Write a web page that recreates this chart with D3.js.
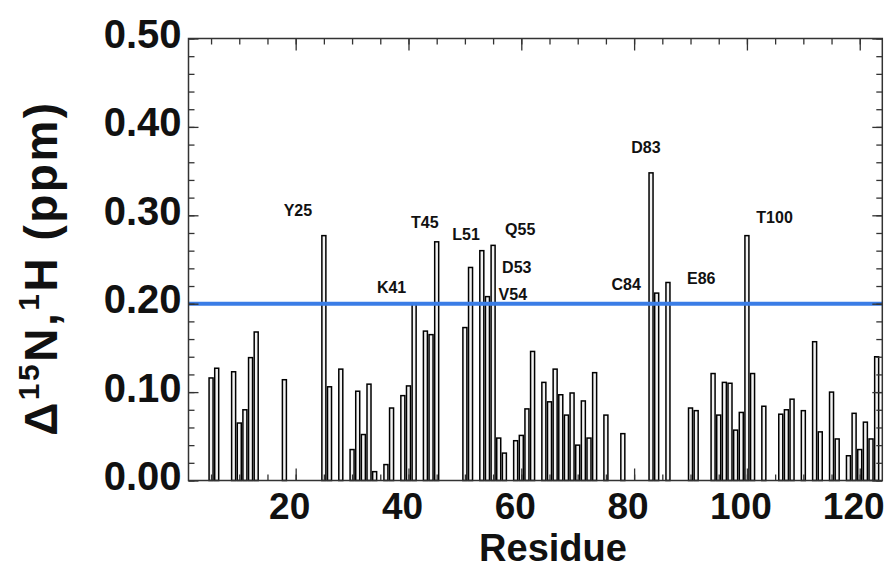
<!DOCTYPE html>
<html>
<head>
<meta charset="utf-8">
<script src="https://cdn.jsdelivr.net/npm/d3@7"></script>
<style>
  body { margin: 0; background: #fff; }
  text { font-family: "Liberation Sans", Arial, sans-serif; font-weight: bold; fill: #111; }
</style>
</head>
<body>
<div id="chart"></div>
<script>
// residue numbers and chemical shift perturbations (ppm)
var residues = [5, 6, 9, 10, 11, 12, 13, 18, 25, 26, 28, 30, 31, 32, 33, 34, 36, 37, 39, 40,
                41, 43, 44, 45, 50, 51, 53, 54, 55, 56, 57, 59, 60, 61, 62, 64, 65, 66, 67, 68,
                69, 70, 71, 72, 73, 75, 78, 83, 84, 86, 90, 91, 94, 95, 96, 97, 98, 99, 100, 101,
                103, 106, 107, 108, 110, 112, 113, 115, 116, 118, 119, 120, 121, 122, 123];
var shifts   = [0.116, 0.127, 0.123, 0.065, 0.080, 0.139, 0.168, 0.114, 0.277, 0.106, 0.126, 0.035, 0.101, 0.052, 0.109, 0.010, 0.018, 0.082, 0.096, 0.107,
                0.200, 0.169, 0.165, 0.270, 0.173, 0.241, 0.260, 0.208, 0.266, 0.048, 0.031, 0.045, 0.051, 0.081, 0.146, 0.111, 0.089, 0.126, 0.097, 0.074,
                0.099, 0.040, 0.090, 0.048, 0.122, 0.074, 0.053, 0.348, 0.212, 0.224, 0.082, 0.079, 0.121, 0.074, 0.111, 0.110, 0.057, 0.077, 0.277, 0.121,
                0.084, 0.075, 0.080, 0.092, 0.079, 0.157, 0.055, 0.100, 0.047, 0.028, 0.076, 0.035, 0.066, 0.047, 0.140];

// labelled residues and where their label sits (data coordinates)
var labelNames = ['Y25', 'K41', 'T45', 'L51', 'Q55', 'D53', 'V54', 'D83', 'C84', 'E86', 'T100'];
var labelRes   = [20.4, 37.0, 42.9, 50.2, 59.8, 59.2, 58.5, 82.1, 78.6, 91.9, 104.9];
var labelVal   = [0.306, 0.219, 0.292, 0.279, 0.284, 0.241, 0.211, 0.377, 0.222, 0.229, 0.298];

var threshold = 0.20;
var yTicks = [0.0, 0.1, 0.2, 0.3, 0.4, 0.5];
var xTicks = [20, 40, 60, 80, 100, 120];

var W = 893, H = 574;
var margin = {top: 38.5, right: 10.7, bottom: 93.5, left: 188.5},
    width  = W - margin.left - margin.right,
    height = H - margin.top - margin.bottom;

var svg = d3.select('#chart').append('svg')
            .attr('width', W).attr('height', H);
var g = svg.append('g')
           .attr('transform', 'translate(' + margin.left + ',' + margin.top + ')');

var x = d3.scaleLinear().domain([1, 124]).range([0, width]);
var y = d3.scaleLinear().domain([0, 0.5]).range([height, 0]);

// bars
var barW = 4;
g.selectAll('.bar')
 .data(residues.map(function(r, i){ return [r, shifts[i]]; }))
 .enter().append('rect')
   .attr('class', 'bar')
   .attr('x', function(d){ return x(d[0]) - barW / 2; })
   .attr('y', function(d){ return y(d[1]); })
   .attr('width', barW)
   .attr('height', function(d){ return height - y(d[1]); })
   .style('fill', '#f2f2f2')
   .style('stroke', '#000')
   .style('stroke-width', 1.5);

// threshold line
g.append('line')
 .attr('x1', 0).attr('x2', width)
 .attr('y1', y(threshold)).attr('y2', y(threshold))
 .style('stroke', '#3a7de6')
 .style('stroke-width', 4);

// axes: ticks inside on all four sides
function styleAxis(sel){
  sel.select('.domain').remove();
  sel.selectAll('line').style('stroke', '#333').style('stroke-width', 1.3);
}
var yMinor = d3.range(0, 0.501, 0.02);
var xMinor = d3.range(5, 124, 5);

g.append('g').call(d3.axisLeft(y).tickValues(yMinor).tickSize(-6).tickFormat('')).call(styleAxis);
g.append('g').call(d3.axisLeft(y).tickValues(yTicks).tickSize(-10).tickFormat('')).call(styleAxis);
g.append('g').attr('transform', 'translate(' + width + ',0)')
 .call(d3.axisRight(y).tickValues(yMinor).tickSize(-6).tickFormat('')).call(styleAxis);
g.append('g').attr('transform', 'translate(' + width + ',0)')
 .call(d3.axisRight(y).tickValues(yTicks).tickSize(-10).tickFormat('')).call(styleAxis);
g.append('g').attr('transform', 'translate(0,' + height + ')')
 .call(d3.axisBottom(x).tickValues(xMinor).tickSize(-6).tickFormat('')).call(styleAxis);
g.append('g').attr('transform', 'translate(0,' + height + ')')
 .call(d3.axisBottom(x).tickValues(xTicks).tickSize(-12).tickFormat('')).call(styleAxis);
g.append('g')
 .call(d3.axisTop(x).tickValues(xMinor).tickSize(-6).tickFormat('')).call(styleAxis);
g.append('g')
 .call(d3.axisTop(x).tickValues(xTicks).tickSize(-12).tickFormat('')).call(styleAxis);

// frame
g.append('rect')
 .attr('width', width).attr('height', height)
 .style('fill', 'none').style('stroke', '#333').style('stroke-width', 1.5);

// tick labels
g.selectAll('.ylab').data(yTicks).enter().append('text')
 .attr('x', -7).attr('y', function(d){ return y(d) - 5; })
 .attr('dy', '0.36em')
 .attr('text-anchor', 'end')
 .style('font-size', '40px')
 .text(function(d){ return d.toFixed(2); });

g.selectAll('.xlab').data(xTicks).enter().append('text')
 .attr('x', function(d){ return x(d) - 6; }).attr('y', height + 38)
 .attr('text-anchor', 'middle')
 .style('font-size', '37px')
 .text(function(d){ return d; });

// axis titles
svg.append('text')
 .attr('x', 553).attr('y', H - 13)
 .attr('text-anchor', 'middle')
 .style('font-size', '38px')
 .text('Residue');

var yt = svg.append('text')
 .attr('transform', 'translate(57,268) rotate(-90)')
 .attr('text-anchor', 'middle')
 .style('font-size', '46px')
 .style('letter-spacing', '2.5px');
yt.append('tspan').text('\u0394');
yt.append('tspan').attr('dy', -18).style('font-size', '30px').text('15');
yt.append('tspan').attr('dy', 18).text('N,');
yt.append('tspan').attr('dy', -18).style('font-size', '30px').text('1');
yt.append('tspan').attr('dy', 18).text('H (ppm)');

// residue annotations
g.selectAll('.ann').data(labelNames).enter().append('text')
 .attr('x', function(d, i){ return x(labelRes[i]); })
 .attr('y', function(d, i){ return y(labelVal[i]); })
 .attr('dy', '0.36em')
 .attr('text-anchor', 'middle')
 .style('font-size', '16px')
 .text(function(d){ return d; });
</script>
</body>
</html>
